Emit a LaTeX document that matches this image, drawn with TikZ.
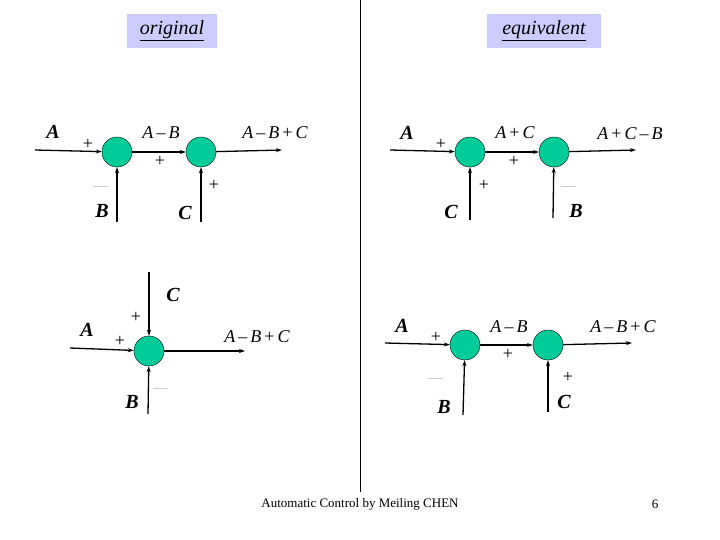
\documentclass[tikz,border=0pt]{standalone}
\usepackage{fontspec}
\setmainfont{Liberation Serif}
\usetikzlibrary{arrows.meta}
\definecolor{sumg}{HTML}{00CC99}
\definecolor{hdr}{HTML}{CCCCFF}
\begin{document}
\begin{tikzpicture}[x=1pt,y=-1pt,
  sum/.style={circle,draw=black,fill=sumg,minimum size=30pt,inner sep=0pt},
  sig/.style={line width=1.3pt,-{Stealth[length=6pt,width=4pt]}},
  big/.style={font=\fontsize{20}{20}\selectfont\bfseries\itshape},
  lab/.style={font=\fontsize{18}{18}\selectfont},
  pl/.style={font=\fontsize{18}{18}\selectfont},
  mn/.style={draw=gray!40,line width=1pt},
  hbox/.style={fill=hdr,minimum width=90pt,minimum height=34pt,font=\fontsize{20}{20}\selectfont\itshape}]
\useasboundingbox (0,0) rectangle (720,540);
\draw[line width=0.6pt] (360,0) -- (360,492);
\node[hbox] (h1) at (172,31) {\underline{original}};
\node[hbox,minimum width=114pt] (h2) at (544,31) {\underline{equivalent}};
\node[font=\fontsize{13}{13}\selectfont] (ft) at (360,504) {Automatic Control by Meiling CHEN};
\node[font=\fontsize{13}{13}\selectfont] (pg) at (655,504) {6};
% top left
\node[sum] (s1) at (117,152) {}; \node[sum] (s2) at (201,152) {};
\coordinate (a1) at (35,150); \coordinate (o1) at (282,150);
\coordinate (b1) at (117,222); \coordinate (c1) at (201,222);
\draw[sig] (a1) -- (s1); \draw[sig] (s1) -- (s2); \draw[sig] (s2) -- (o1);
\draw[sig] (b1) -- (s1); \draw[sig] (c1) -- (s2);
\node[big] (la1) at (53,132) {A}; \node[pl] (p1) at (88,144) {+};
\node[lab] (l1) at (161,133) {\textit{A}\,–\,\textit{B}}; \node[pl] (p2) at (160,161) {+};
\node[lab] (l2) at (275,133) {\textit{A}\,–\,\textit{B}\,+\,\textit{C}};
\node[big] (lb1) at (102,211) {B}; \draw[mn] (93,187) -- (108,187);
\node[big] (lc1) at (185,213) {C}; \node[pl] (p3) at (214,185) {+};
% bottom left
\node[sum] (s3) at (149,351) {};
\coordinate (c3) at (149,272); \coordinate (a3) at (70,348);
\coordinate (o3) at (245,351); \coordinate (b3) at (148,414);
\draw[sig] (c3) -- (s3); \draw[sig] (a3) -- (s3); \draw[sig] (s3) -- (o3); \draw[sig] (b3) -- (s3);
\node[big] (lc3) at (173,295) {C}; \node[pl] (p4) at (136,317) {+};
\node[big] (la3) at (87,330) {A}; \node[pl] (p5) at (120,341) {+};
\node[lab] (l3) at (257,337) {\textit{A}\,–\,\textit{B}\,+\,\textit{C}};
\node[big] (lb3) at (132,402) {B}; \draw[mn] (153,388) -- (168,388);
% top right
\node[sum] (s4) at (470,152) {}; \node[sum] (s5) at (554,152) {};
\coordinate (a4) at (390,150); \coordinate (o4) at (636,150);
\coordinate (c4) at (470,220); \coordinate (b4) at (553,218);
\draw[sig] (a4) -- (s4); \draw[sig] (s4) -- (s5); \draw[sig] (s5) -- (o4);
\draw[sig] (c4) -- (s4); \draw[sig] (b4) -- (s5);
\node[big] (la4) at (407,133) {A}; \node[pl] (p6) at (441,144) {+};
\node[lab] (l4) at (515,133) {\textit{A}\,+\,\textit{C}}; \node[pl] (p7) at (514,161) {+};
\node[lab] (l5) at (630,134) {\textit{A}\,+\,\textit{C}\,–\,\textit{B}};
\node[big] (lc4) at (451,212) {C}; \node[pl] (p8) at (484,185) {+};
\node[big] (lb4) at (576,211) {B}; \draw[mn] (561,187) -- (576,187);
% bottom right
\node[sum] (s6) at (465,345) {}; \node[sum] (s7) at (548,345) {};
\coordinate (a6) at (385,343); \coordinate (o6) at (632,343);
\coordinate (b6) at (463,415); \coordinate (c6) at (548,412);
\draw[sig] (a6) -- (s6); \draw[sig] (s6) -- (s7); \draw[sig] (s7) -- (o6);
\draw[sig] (b6) -- (s6); \draw[sig] (c6) -- (s7);
\node[big] (la6) at (402,326) {A}; \node[pl] (p9) at (436,337) {+};
\node[lab] (l6) at (509,327) {\textit{A}\,–\,\textit{B}}; \node[pl] (p10) at (508,354) {+};
\node[lab] (l7) at (623,327) {\textit{A}\,–\,\textit{B}\,+\,\textit{C}};
\node[big] (lb6) at (444,407) {B}; \draw[mn] (428,378) -- (443,378);
\node[big] (lc6) at (564,402) {C}; \node[pl] (p11) at (568,377) {+};
\end{tikzpicture}
\end{document}
